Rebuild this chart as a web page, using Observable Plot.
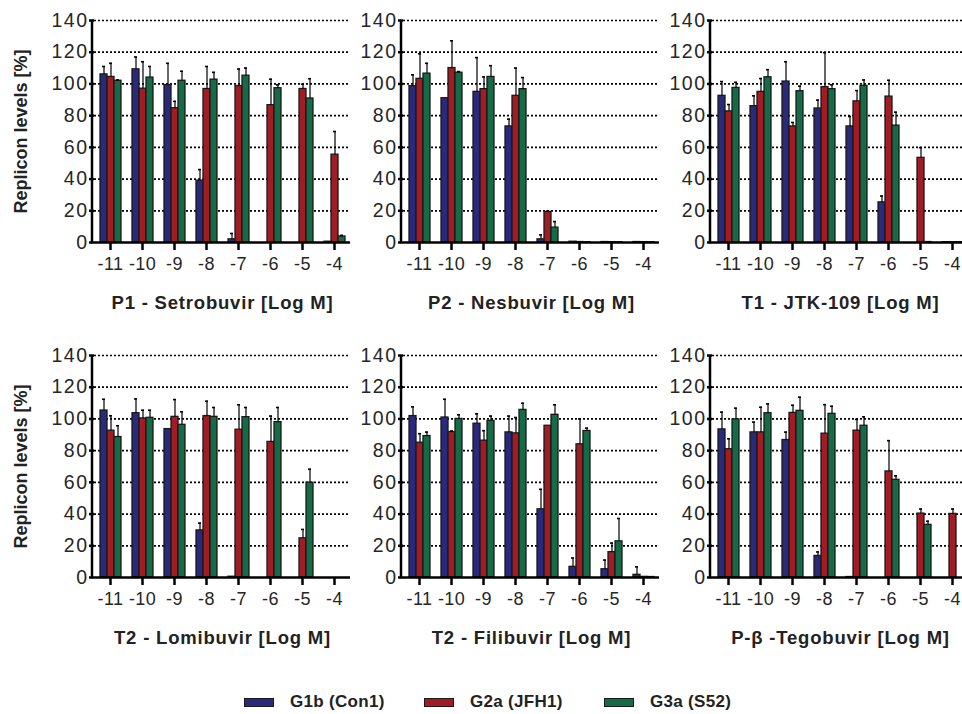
<!DOCTYPE html>
<html><head><meta charset="utf-8">
<script src="https://cdn.jsdelivr.net/npm/d3@7"></script>
<script src="https://cdn.jsdelivr.net/npm/@observablehq/plot@0.6"></script>
<style>
html,body{margin:0;padding:0;background:#fff;overflow:hidden;}
#root{position:relative;width:962px;height:714px;overflow:hidden;font-family:"Liberation Sans",Arial,sans-serif;}
.panel{position:absolute;}
.panel svg{max-width:none !important;}
.legend{position:absolute;top:692px;left:244px;display:flex;align-items:center;font-weight:bold;font-size:17px;color:#222;letter-spacing:0.3px;}
.item{display:flex;align-items:center;width:180px;}
.sw{width:28px;height:7px;border:1.5px solid #1a1a1a;margin-right:16px;}
</style></head><body><div id="root"></div>
<script>
const concs = ["-11","-10","-9","-8","-7","-6","-5","-4"];
const series = ["G1b (Con1)","G2a (JFH1)","G3a (S52)"];
const colors = ["#2a2a7c","#a11c24","#146b46"];
const titles = ["P1 - Setrobuvir [Log M]","P2 - Nesbuvir [Log M]","T1 - JTK-109 [Log M]",
                "T2 - Lomibuvir [Log M]","T2 - Filibuvir [Log M]","P-β -Tegobuvir [Log M]"];
const yLabel = "Replicon levels [%]";

// means per series (G1b, G2a, G3a) over concs -11..-4, and SD (upper error)
const meanP1 = [[106,109.2,99.3,39,2,0,0,0.5],[104.4,97,84.7,96.8,98.7,86.6,96.8,55.4],[102,104,102,102.7,105.2,97.3,90.8,3.8]];
const sdP1   = [[5,7.8,13.7,7,3.7,0,0,0],[8.6,17,4.3,14.2,10.7,16.4,3,14.6],[0.5,7,6,4.6,4.8,2.1,12.5,0.7]];
const meanP2 = [[98.6,91,95,73.2,2,0.5,0.3,0.3],[103.2,110,96.7,92.5,19.3,0.3,0.2,0.2],[106.5,107.1,104.4,96.7,9.4,0.2,0.2,0.2]];
const sdP2   = [[7.1,0,21.6,4.6,2.8,0,0,0],[15.8,17.2,7.7,17.5,0.4,0,0,0],[6.5,0.7,7.1,7.3,3.8,0,0,0]];
const meanT1 = [[92.5,86,101.5,84.5,73.2,25.3,0,0.2],[82.7,95,73.2,98,89,92,53.4,0.2],[97.5,104.2,95.4,96.7,98.8,73.7,0.3,0.2]];
const sdT1   = [[9,6.5,12.5,5.3,6.3,4,0,0],[4.3,8.4,2.5,21.7,6.8,10.3,6.4,0],[3.5,4.8,3.2,2.7,3.7,8.5,0,0]];
const meanLomi = [[105.3,103.6,93.6,29.7,0.5,0,0,0],[92.6,100.3,101.3,101.8,93.2,85.5,24.7,0],[88.6,100.7,96.3,101.3,101.1,98,59.8,0]];
const sdLomi   = [[7.1,9,0,4.6,0,0,0,0],[9.4,5.2,10.9,9.4,15.7,16.3,5.6,0],[7.1,4.8,8.2,5.9,6.1,9.2,8.5,0]];
const meanFili = [[101.8,100.9,97,91.5,43,6.7,5.2,1.7],[85,91.7,86.3,90.9,95.7,84,16,0.4],[89.2,100,98.8,105.7,102.6,92.4,22.8,0.3]];
const sdFili   = [[5.8,11.5,6.2,10.3,12.6,5.6,5.8,5],[5.7,0.7,6.3,10,0,16,5.7,0],[2.5,2.6,3,4.2,6.3,1.8,14.4,0]];
const meanTego = [[93.4,91.5,86.7,13.6,0.3,0,0,0],[80.9,91.5,103.8,90.7,92.6,66.9,40.3,40.1],[99.7,103.6,105.1,103.2,95.7,61.6,33.2,0]];
const sdTego   = [[10.9,6.5,5,2.5,0,0,0,0],[6.6,15.9,4.8,18.3,7.1,19.4,2.9,3.1],[7.1,5.9,8.6,4.8,5.6,2.5,2.3,0]];
const yTicks = [0,20,40,60,80,100,120,140];

const panels = [
  {m: meanP1, s: sdP1}, {m: meanP2, s: sdP2}, {m: meanT1, s: sdT1},
  {m: meanLomi, s: sdLomi}, {m: meanFili, s: sdFili}, {m: meanTego, s: sdTego}
];

const root = document.getElementById("root");
const plotW = 259;

panels.forEach((p, k) => {
  const col = k % 3, row = Math.floor(k / 3);
  const rows = [];
  concs.forEach((c, i) => series.forEach((s, j) => rows.push({conc: c, series: s, mean: p.m[j][i], sd: p.s[j][i]})));
  const ml = col === 0 ? 92 : 50;
  const chart = Plot.plot({
    width: ml + plotW, height: 322,
    marginLeft: ml, marginRight: 0, marginTop: 20, marginBottom: 80,
    style: {fontFamily: "Liberation Sans, Arial, sans-serif", fontSize: "18px", color: "#262626", background: "transparent", overflow: "visible"},
    fx: {domain: concs, paddingInner: 0, paddingOuter: 0},
    x: {domain: series, paddingInner: 0, paddingOuter: 0.52, axis: null},
    y: {domain: [0, 140]},
    color: {domain: series, range: colors},
    marks: [
      Plot.gridY(yTicks.filter(t => t > 0), {stroke: "#000", strokeOpacity: 1, strokeDasharray: "2,2", strokeWidth: 1.7}),
      Plot.barY(rows, {fx: "conc", x: "series", y: "mean", fill: "series", stroke: "#1a1a1a", strokeWidth: 1.3}),
      Plot.ruleX(rows.filter(d => d.sd > 0), {fx: "conc", x: "series", y1: "mean", y2: d => d.mean + d.sd, stroke: "#000", strokeWidth: 1.2}),
      Plot.tickY(rows.filter(d => d.sd > 0), {fx: "conc", x: "series", y: d => d.mean + d.sd, stroke: "#000", strokeWidth: 1.6, insetLeft: 2, insetRight: 2}),
      Plot.ruleY([0], {stroke: "#000", strokeWidth: 2.5}),
      Plot.axisY(yTicks, {tickSize: 5, tickPadding: 1, stroke: "#000", strokeWidth: 2.5, fontSize: 18,
        label: col === 0 ? yLabel : null, labelAnchor: "center", labelOffset: 80, labelArrow: false}),
      Plot.axisFx({anchor: "bottom", tickSize: 8, tickPadding: 7, stroke: "#000", strokeWidth: 2.5, fontSize: 18,
        label: titles[k], labelAnchor: "center", labelOffset: 66, labelArrow: false})
    ]
  });
  const y = chart.scale("y");
  d3.select(chart).append("line")
    .attr("x1", ml).attr("x2", ml)
    .attr("y1", y.range[0] + 1.25).attr("y2", y.range[1])
    .attr("stroke", "#000").attr("stroke-width", 2.5);
  chart.querySelectorAll("text").forEach(t => {
    const s = t.textContent.trim();
    if (s === titles[k]) {
      t.style.fontWeight = "bold"; t.style.fontSize = "18.5px"; t.style.letterSpacing = "0.8px"; t.setAttribute("fill", "#222");
    } else if (s === yLabel) {
      t.style.fontWeight = "bold"; t.style.fontSize = "18px"; t.setAttribute("fill", "#222");
    } else if (/^\d+$/.test(s)) {
      t.style.fontSize = "19.5px"; t.style.letterSpacing = "1.5px";
    } else {
      t.style.fontSize = "18px"; t.style.letterSpacing = "0.4px";
    }
  });
  chart.style.maxWidth = "none";
  const div = document.createElement("div");
  div.className = "panel";
  div.style.left = (col === 0 ? 0 : (col === 1 ? 351 : 660)) + "px";
  div.style.top = (row === 0 ? 0 : 335) + "px";
  div.style.width = (ml + plotW) + "px";
  div.appendChild(chart);
  root.appendChild(div);
});

const legend = document.createElement("div");
legend.className = "legend";
series.forEach((s, i) => {
  const it = document.createElement("div"); it.className = "item";
  const sw = document.createElement("div"); sw.className = "sw"; sw.style.background = colors[i];
  const tx = document.createElement("span"); tx.textContent = s;
  it.appendChild(sw); it.appendChild(tx); legend.appendChild(it);
});
root.appendChild(legend);
</script></body></html>
